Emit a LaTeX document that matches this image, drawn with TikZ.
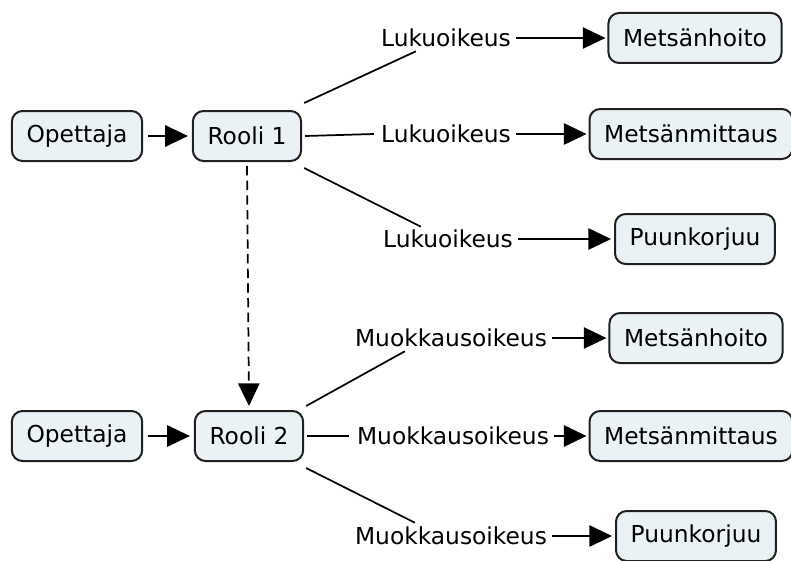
\documentclass[tikz,border=0pt]{standalone}
\usepackage{fontspec}
\setmainfont{DejaVu Sans}
\usetikzlibrary{arrows.meta,calc}
\definecolor{boxfill}{HTML}{EBF2F5}
\definecolor{boxline}{HTML}{202020}
\begin{document}
\begin{tikzpicture}[x=0.75pt,y=-0.75pt,
  every node/.style={font=\fontsize{17.5}{20}\selectfont},
  concept/.style={draw=boxline,fill=boxfill,line width=1.5pt,rounded corners=8pt,
    minimum height=37.5pt,inner xsep=11pt,inner ysep=0pt},
  linklabel/.style={inner sep=0pt},
  conn/.style={line width=1.3pt,draw=black},
  arr/.style={conn,-{Triangle[length=17pt,width=16pt]}}]
\useasboundingbox (0,0) rectangle (791,560);

% first role
\node[concept] (o1) at (77,136) {Opettaja};
\node[concept] (r1) at (247,136) {Rooli 1};
\node[linklabel] (l1) at (446,38) {Lukuoikeus};
\node[linklabel] (l2) at (446,134) {Lukuoikeus};
\node[linklabel] (l3) at (448,239) {Lukuoikeus};
\node[concept] (m1) at (695,38) {Metsänhoito};
\node[concept] (k1) at (691,134) {Metsänmittaus};
\node[concept] (p1) at (695,239) {Puunkorjuu};

% second role
\node[concept] (o2) at (77,436) {Opettaja};
\node[concept] (r2) at (249,436) {Rooli 2};
\node[linklabel] (n1) at (451,338) {Muokkausoikeus};
\node[linklabel] (n2) at (453,436) {Muokkausoikeus};
\node[linklabel] (n3) at (451,536) {Muokkausoikeus};
\node[concept] (m2) at (696,338) {Metsänhoito};
\node[concept] (k2) at (691,436) {Metsänmittaus};
\node[concept] (p2) at (696,536) {Puunkorjuu};

% teacher to role
\draw[arr] ($(o1.east)+(5,0)$) -- ($(r1.west)+(-4,0)$);
\draw[arr] ($(o2.east)+(5,0)$) -- ($(r2.west)+(-4,0)$);

% role inheritance
\draw[arr,dash pattern=on 7pt off 4pt] ($(r1.south)+(0,4)$) -- ($(r2.north)+(0,-4)$);

% role 1 links
\draw[conn] ($(r1.north east)+(2,-7)$) -- ($(l1.south west)+(35,4)$);
\draw[conn] ($(r1.east)+(3,0)$) -- ($(l2.west)+(-7,0)$);
\draw[conn] ($(r1.south east)+(2,6)$) -- ($(l3.north west)+(38,-3)$);
\draw[arr] ($(l1.east)+(5,0)$) -- ($(m1.west)+(-2,0)$);
\draw[arr] ($(l2.east)+(5,0)$) -- ($(k1.west)+(-2,0)$);
\draw[arr] ($(l3.east)+(5,0)$) -- ($(p1.west)+(-3,0)$);

% role 2 links
\draw[conn] ($(r2.north east)+(2,-4)$) -- ($(n1.south west)+(50,4)$);
\draw[conn] ($(r2.east)+(3,0)$) -- ($(n2.west)+(-8,0)$);
\draw[conn] ($(r2.south east)+(2,6)$) -- ($(n3.north west)+(60,-4)$);
\draw[arr] ($(n1.east)+(5,0)$) -- ($(m2.west)+(-2,0)$);
\draw[arr] ($(n2.east)+(5,0)$) -- ($(k2.west)+(-2,0)$);
\draw[arr] ($(n3.east)+(5,0)$) -- ($(p2.west)+(-3,0)$);
\end{tikzpicture}
\end{document}
